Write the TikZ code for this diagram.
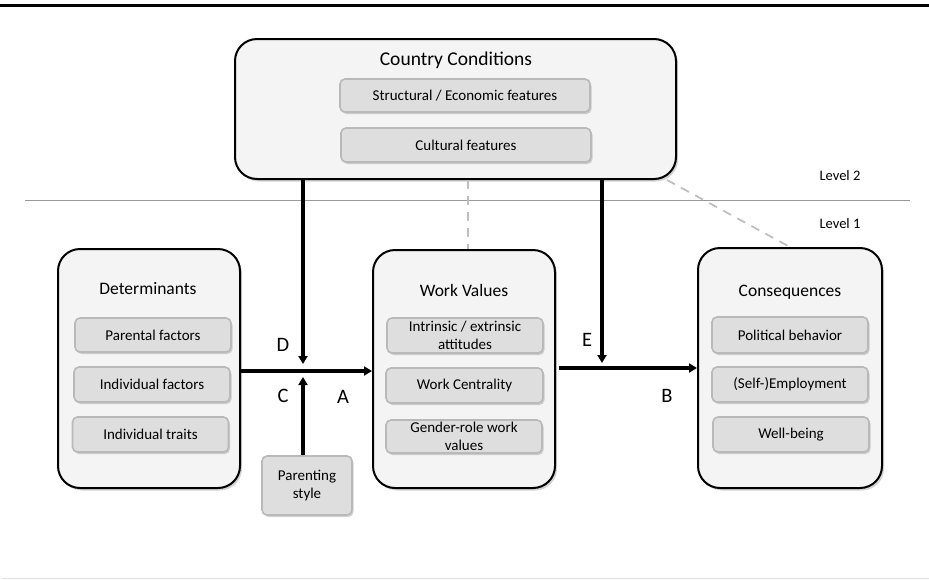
\documentclass[tikz,border=0pt]{standalone}
\usepackage{fontspec}
\setmainfont{Carlito}
\usetikzlibrary{shadows,arrows.meta,calc}
\begin{document}
\begin{tikzpicture}[x=1pt,y=-1pt,
  outerbox/.style={draw=black, line width=2pt, fill=gray!9, rounded corners=22pt,
    drop shadow={shadow xshift=2pt, shadow yshift=-2.5pt, opacity=0.35, fill=gray}},
  innerbox/.style={draw=gray!55, line width=1.6pt, fill=gray!26, rounded corners=5pt,
    align=center, font=\fontsize{15}{18}\selectfont,
    drop shadow={shadow xshift=1.5pt, shadow yshift=-2pt, opacity=0.35, fill=gray}},
  titletext/.style={font=\fontsize{17.5}{20}\selectfont},
  letter/.style={font=\fontsize{20.5}{22}\selectfont},
  leveltext/.style={font=\fontsize{14.5}{16}\selectfont},
  arr/.style={line width=3.5pt, -{Triangle[length=8pt,width=9pt]}},
  dashline/.style={draw=gray!50, line width=1.8pt, dash pattern=on 9pt off 7pt}
]
\useasboundingbox (0,0) rectangle (929,579);
% frame lines
\draw[line width=3pt] (0,5) -- (929,5);
\draw[gray!25, line width=1pt] (2,578) -- (929,578);
\draw[gray!80, line width=0.9pt] (25,200) -- (910,200);
\node[leveltext] (lv2) at (840,176) {Level 2};
\node[leveltext] (lv1) at (840,224) {Level 1};

% Country conditions
\node[outerbox, minimum width=441pt, minimum height=140pt] (cc) at (455.5,109) {};
\node[titletext, font=\fontsize{19.5}{22}\selectfont] (cct) at (456,60) {Country Conditions};
\node[innerbox, minimum width=250pt, minimum height=33pt] (sef) at (465,95.5) {Structural / Economic features};
\node[innerbox, minimum width=250pt, minimum height=34pt] (cf) at (466,145) {Cultural features};

% Determinants
\node[outerbox, minimum width=182pt, minimum height=239pt] (det) at (149,368.5) {};
\node[titletext] (dett) at (148,289) {Determinants};
\node[innerbox, minimum width=156pt, minimum height=34pt] (pf) at (153,335) {Parental factors};
\node[innerbox, minimum width=156pt, minimum height=35pt] (if) at (152,384.5) {Individual factors};
\node[innerbox, minimum width=156pt, minimum height=35pt] (it) at (150.5,434.5) {Individual traits};

% Parenting style
\node[innerbox, minimum width=90pt, minimum height=59pt] (ps) at (307,485.5) {Parenting\\style};

% Work values
\node[outerbox, minimum width=182pt, minimum height=238pt] (wv) at (464,369) {};
\node[titletext] (wvt) at (464,290) {Work Values};
\node[innerbox, minimum width=156pt, minimum height=35pt, inner sep=0pt] (ie) at (465,335.5) {Intrinsic / extrinsic\\attitudes};
\node[innerbox, minimum width=157pt, minimum height=35pt] (wc) at (464.5,385.5) {Work Centrality};
\node[innerbox, minimum width=156pt, minimum height=33pt, inner sep=0pt] (gr) at (464,436.5) {Gender-role work\\values};

% Consequences
\node[outerbox, minimum width=184pt, minimum height=240pt] (cq) at (790,368) {};
\node[titletext] (cqt) at (790,292) {Consequences};
\node[innerbox, minimum width=156pt, minimum height=36pt] (pb) at (790,335) {Political behavior};
\node[innerbox, minimum width=156pt, minimum height=35pt] (se) at (790,384.5) {(Self-)Employment};
\node[innerbox, minimum width=156pt, minimum height=35pt] (wb) at (791,434.5) {Well-being};

% junction coordinates
\coordinate (ja) at (303,371);
\coordinate (dtip) at (303,364);
\coordinate (ctip) at (303,377);
\coordinate (jb) at (602,368);
\coordinate (etip) at (602,363);
\coordinate (ccd) at (667,180);
\coordinate (vd) at (468,200);

% dashed links
\draw[dashline] (cc.south -| vd) -- (wv.north -| vd);
\draw[dashline] (ccd) -- (cq.north);

% arrows
\draw[arr] (det.east |- ja) -- (wv.west |- ja);
\draw[arr] (cc.south -| dtip) -- (dtip);
\draw[arr] (ps.north -| ctip) -- (ctip);
\draw[arr] ([xshift=3pt]wv.east |- jb) -- (cq.west |- jb);
\draw[arr] (cc.south -| etip) -- (etip);

% labels
\node[letter] (ld) at (283,345) {D};
\node[letter] (lc) at (283,396) {C};
\node[letter] (la) at (343,397) {A};
\node[letter] (le) at (587,340) {E};
\node[letter] (lb) at (667,396) {B};
\end{tikzpicture}
\end{document}
